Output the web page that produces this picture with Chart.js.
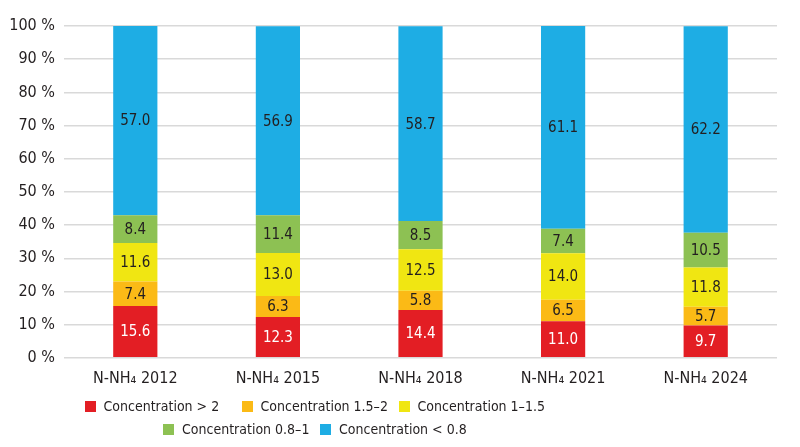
<!DOCTYPE html>
<html>
<head>
<meta charset="utf-8">
<script src="https://cdn.jsdelivr.net/npm/chart.js@4.4.1/dist/chart.umd.min.js"></script>
<style>
  body { margin: 0; background: #fff; }
  #wrap { position: relative; width: 800px; height: 447px; }
  #legend { position: absolute; left: 0; top: 0; width: 800px; height: 447px; pointer-events: none;
    font-family: 'DejaVu Sans Condensed', sans-serif; font-size: 14px; color: #231f20; }
  .item { position: absolute; display: flex; align-items: center; white-space: nowrap; }
  .box { width: 11px; height: 11px; margin-right: 8px; }
</style>
</head>
<body>
<div id="wrap">
  <canvas id="chart" width="800" height="447"></canvas>
  <div id="legend"></div>
</div>
<script>
const categories = ['N-NH\u2084 2012', 'N-NH\u2084 2015', 'N-NH\u2084 2018', 'N-NH\u2084 2021', 'N-NH\u2084 2024'];
const seriesNames = ['Concentration > 2', 'Concentration 1.5\u20132', 'Concentration 1\u20131.5', 'Concentration 0.8\u20131', 'Concentration < 0.8'];
const over2 = [15.6, 12.3, 14.4, 11.0, 9.7];
const from15to2 = [7.4, 6.3, 5.8, 6.5, 5.7];
const from1to15 = [11.6, 13.0, 12.5, 14.0, 11.8];
const from08to1 = [8.4, 11.4, 8.5, 7.4, 10.5];
const under08 = [57.0, 56.9, 58.7, 61.1, 62.2];
const yTicks = [0, 10, 20, 30, 40, 50, 60, 70, 80, 90, 100];

const colors = ['#e31e24', '#fbba16', '#f0e612', '#8dc153', '#1eade4'];
const labelColors = ['#ffffff', '#231f20', '#231f20', '#231f20', '#231f20'];
const fontFamily = "'DejaVu Sans Condensed', sans-serif";
const allSeries = [over2, from15to2, from1to15, from08to1, under08];

// draws the value in the middle of every segment
const segmentLabels = {
  id: 'segmentLabels',
  afterDatasetsDraw(chart) {
    const ctx = chart.ctx;
    ctx.save();
    ctx.font = '15px ' + fontFamily;
    ctx.textAlign = 'center';
    ctx.textBaseline = 'middle';
    chart.data.datasets.forEach((ds, i) => {
      const meta = chart.getDatasetMeta(i);
      ctx.fillStyle = labelColors[i];
      meta.data.forEach((bar, j) => {
        const { x, y, base } = bar.getProps(['x', 'y', 'base'], true);
        ctx.fillText(ds.data[j].toFixed(1), x, (y + base) / 2 + 1);
      });
    });
    ctx.restore();
  }
};

new Chart(document.getElementById('chart'), {
  type: 'bar',
  data: {
    labels: categories,
    datasets: allSeries.map((values, i) => ({
      label: seriesNames[i],
      data: values,
      backgroundColor: colors[i],
      borderWidth: 0,
      barPercentage: 1,
      categoryPercentage: 0.31
    }))
  },
  options: {
    responsive: false,
    animation: false,
    layout: { padding: { top: 26, right: 23, left: 8, bottom: 56 } },
    plugins: {
      legend: { display: false },
      tooltip: { enabled: false }
    },
    scales: {
      x: {
        stacked: true,
        grid: { display: false },
        border: { display: false },
        ticks: { color: '#231f20', font: { family: fontFamily, size: 16 }, padding: 3 }
      },
      y: {
        stacked: true,
        min: 0,
        max: 100,
        afterBuildTicks: (axis) => { axis.ticks = yTicks.map(v => ({ value: v })); },
        afterFit: (axis) => { axis.width = 56; },
        grid: { color: '#d9d9d9', lineWidth: 1.5, drawTicks: false },
        border: { display: false },
        ticks: {
          color: '#231f20',
          font: { family: fontFamily, size: 16 },
          padding: 9,
          callback: (v) => v + ' %'
        }
      }
    }
  },
  plugins: [segmentLabels]
});

// legend: two centred rows of fixed-width cells
const legend = document.getElementById('legend');
const rows = [[0, 1, 2], [3, 4]];
const cellWidth = 157;
const rowTops = [400, 423];
const rowCenter = 320;
rows.forEach((row, r) => {
  const start = rowCenter - row.length * cellWidth / 2;
  row.forEach((idx, k) => {
    const item = document.createElement('div');
    item.className = 'item';
    item.style.left = (start + k * cellWidth) + 'px';
    item.style.top = (rowTops[r] - 4) + 'px';
    item.style.height = '20px';
    const box = document.createElement('span');
    box.className = 'box';
    box.style.background = colors[idx];
    const txt = document.createElement('span');
    txt.textContent = seriesNames[idx];
    item.appendChild(box);
    item.appendChild(txt);
    legend.appendChild(item);
  });
});
</script>
</body>
</html>
